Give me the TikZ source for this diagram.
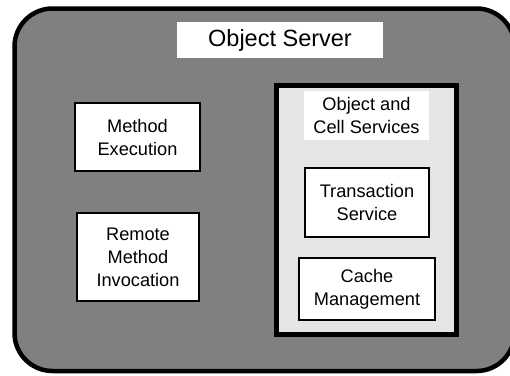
\documentclass[tikz,border=0pt]{standalone}
\usepackage{fontspec}
\setmainfont{Liberation Sans}
\usepackage{xcolor}
\definecolor{servergray}{HTML}{808080}
\definecolor{panelgray}{HTML}{E5E5E5}

\begin{document}
\begin{tikzpicture}[x=1pt,y=-1pt,
    box/.style={draw,line width=2pt,fill=white,align=center,inner sep=0pt,
        font=\fontsize{18.2}{23}\selectfont},
    heading/.style={fill=white,align=center,inner sep=0pt}]
                \useasboundingbox (0,0) rectangle (510,375);
                \draw[line width=4.5pt, fill=servergray, rounded corners=38pt] (14.5,8.5) rectangle (514.5,371);
                \node[heading, minimum width=206pt, minimum height=36pt, font=\fontsize{23.5}{28}\selectfont] (server) at (280,40) {Object Server};
                \node[box, minimum width=125pt, minimum height=68pt] (exec) at (137.5,137) {Method\\Execution};
                \node[box, minimum width=122pt, minimum height=88pt] (rmi) at (138,257) {Remote\\Method\\Invocation};
                \node[draw, line width=5pt, fill=panelgray, minimum width=180pt, minimum height=249pt] (services) at (366.5,210) {};
                \node[heading, minimum width=125pt, minimum height=49pt, font=\fontsize{18.2}{23}\selectfont] (svctitle) at (366.5,115.5) {Object and\\Cell Services};
                \node[box, minimum width=124pt, minimum height=69pt] (trans) at (367,202.5) {Transaction\\Service};
                \node[box, minimum width=136pt, minimum height=62pt] (cache) at (367,289) {Cache\\Management};
            \end{tikzpicture}
\end{document}
